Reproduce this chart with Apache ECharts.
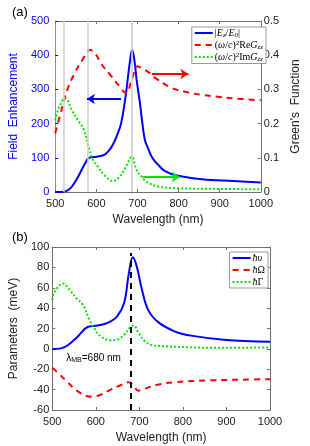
<!DOCTYPE html>
<html><head><meta charset="utf-8">
<script src="https://cdn.jsdelivr.net/npm/echarts@6/dist/echarts.min.js"></script>
<style>html,body{margin:0;padding:0;background:#fff}#c{width:310px;height:446px}</style>
</head><body><div id="c"></div>
<script>
// ---- Panel (a) data ----
const wlE = [500,510,520,530,540,550,560,570,580,590,600,610,620,630,640,650,660,670,676,682,687,692,698,706,712,718,725,736,750,766,796,857,933,1000];
const fieldE = [0,0,1,5,15,33,55,78,98,102,103,105,109,120,138,165,200,270,327,385,415,390,327,260,200,152,130,100,80,62,48,37,32,28];
const wlRe = [500,513,529,547,566,585,600,611,634,657,672,687,700,710,725,744,782,820,857,900,933,1000];
const reG = [0.172,0.23,0.298,0.347,0.386,0.415,0.40,0.376,0.342,0.308,0.289,0.332,0.368,0.362,0.352,0.333,0.305,0.292,0.284,0.278,0.274,0.268];
const wlIm = [500,510,525,540,555,570,581,592,604,619,641,657,672,686,698,710,717,729,751,800,900,1000];
const imG = [0.21,0.25,0.274,0.24,0.21,0.181,0.132,0.094,0.074,0.05,0.032,0.045,0.074,0.103,0.064,0.045,0.035,0.025,0.016,0.011,0.009,0.008];
const refLines = [520,580,687];
// ---- Panel (b) data ----
const wlHv = [500,520,537,558,581,604,627,649,665,676,685,694,706,721,744,782,819,894,1000];
const hv = [0,0.5,4,12,21.5,23,25.5,32,45,74.5,90,81,58,37.5,26,17,13,9,7];
const wlOm = [500,513,536,558,581,592,611,634,657,676,687,698,706,744,782,857,963,1000];
const hOmega = [-18.6,-23.5,-33,-41.5,-46.5,-47,-45,-40,-35.7,-32.7,-36.7,-41,-40,-35,-32.7,-31,-30,-29.8];
const wlGa = [500,506,525,540,555,570,585,596,611,634,649,665,680,687,698,713,732,744,782,894,1000];
const hGamma = [48,56.5,64,58,50,43.5,29,20.5,12.4,8.5,9,14,21.5,23,15.7,7.5,3.3,3,2,1,1.5];
const lambdaMB = 680;

const zip = (a,b)=>a.map((x,i)=>[x,b[i]]);
const BLUE='#0000ff', RED='#ff0000', GREEN='#00e600';
const FONT='Liberation Sans, Arial, sans-serif';
const SERIF='Liberation Serif, DejaVu Serif, serif';
const grids=[{left:49,right:40,top:21,height:171},{left:49,right:40,top:247,height:163}];
const frame='#707070';
const SM = 0.4;

function xAx(g, top){
  return {type:'value',gridIndex:g,min:500,max:1000,interval:100,position:top?'top':'bottom',
    axisLine:{show:true,onZero:false,lineStyle:{color:frame,width:1}},
    axisTick:{show:true,inside:true,length:3,lineStyle:{color:frame}},
    axisLabel:{show:!top,color:'#222',fontSize:11,fontFamily:FONT,margin:6,formatter:v=>String(v)},
    splitLine:{show:false},
    name: top?'':'Wavelength (nm)', nameLocation:'middle', nameGap:22,
    nameTextStyle:{color:'#222',fontSize:12,fontFamily:FONT}};
}
const rich = {
  r:{fontFamily:SERIF,fontSize:10,color:'#000'},
  i:{fontFamily:SERIF,fontSize:10,fontStyle:'italic',color:'#000'},
  s:{fontFamily:SERIF,fontSize:7,fontStyle:'italic',color:'#000',verticalAlign:'bottom',padding:[4,0,0,0]},
  p:{fontFamily:SERIF,fontSize:7,color:'#000',verticalAlign:'top',padding:[0,0,4,0]}
};
const legendFmt = {
  'Ez':'{r||}{i|E}{s|z}{r|/}{i|E}{s|0}{r||}',
  'ReG':'{r|(}{i|ω}{r|/}{i|c}{r|)}{p|2}{r|Re}{i|G}{s|zz}',
  'ImG':'{r|(}{i|ω}{r|/}{i|c}{r|)}{p|2}{r|Im}{i|G}{s|zz}',
  'hv':'{i|ħυ}','hO':'{i|ħ}{r|Ω}','hG':'{i|ħ}{r|Γ}'
};
function arrow(color, from, to){
  return {silent:true,symbol:['none','arrow'],symbolSize:8,label:{show:false},
    lineStyle:{color:color,width:2,type:'solid'},data:[[{coord:from},{coord:to}]]};
}
function lineSeries(name, xi, yi, data, color, type){
  return {name:name,type:'line',xAxisIndex:xi,yAxisIndex:yi,data:data,showSymbol:false,symbol:'none',smooth:SM,
    lineStyle:{color:color,width:2,type:type},itemStyle:{color:color},z:3};
}
const legendBase = {orient:'vertical',itemWidth:18,itemHeight:10,
  padding:[1,3,1,2],borderColor:'#999',borderWidth:1,backgroundColor:'#fff',
  itemStyle:{opacity:0},formatter:n=>legendFmt[n],textStyle:{rich:rich,padding:[0,0,0,-3]}};
const chart = echarts.init(document.getElementById('c'),null,{renderer:'canvas'});
chart.setOption({
  animation:false,
  title:[{text:'(a)',left:7,top:1,textStyle:{fontSize:13,fontWeight:'normal',fontFamily:FONT,color:'#000'}},
         {text:'(b)',left:7,top:226,textStyle:{fontSize:13,fontWeight:'normal',fontFamily:FONT,color:'#000'}}],
  grid:grids,
  legend:[
    Object.assign({},legendBase,{data:['Ez','ReG','ImG'],right:44,top:27,itemGap:1}),
    Object.assign({},legendBase,{data:['hv','hO','hG'],right:42,top:252,itemGap:2})
  ],
  xAxis:[xAx(0,false),xAx(0,true),xAx(1,false),xAx(1,true)],
  yAxis:[
    {type:'value',gridIndex:0,min:0,max:500,interval:100,position:'left',
     axisLine:{show:true,lineStyle:{color:'#8080ff'}},axisTick:{show:true,inside:true,length:3,lineStyle:{color:BLUE}},
     axisLabel:{color:BLUE,fontSize:11,fontFamily:FONT,margin:6},splitLine:{show:false},
     name:'Field  Enhancement',nameLocation:'middle',nameGap:26,nameTextStyle:{color:BLUE,fontSize:12,fontFamily:FONT}},
    {type:'value',gridIndex:0,min:0,max:0.5,interval:0.1,position:'right',
     axisLine:{show:true,lineStyle:{color:frame}},axisTick:{show:true,inside:true,length:3,lineStyle:{color:frame}},
     axisLabel:{color:'#222',fontSize:11,fontFamily:FONT,margin:3,formatter:v=>v===0?'0':v.toFixed(1)},splitLine:{show:false},
     name:"Green's  Function",nameLocation:'middle',nameGap:26,nameRotate:90,nameTextStyle:{color:'#222',fontSize:12,fontFamily:FONT}},
    {type:'value',gridIndex:1,min:-60,max:100,interval:20,position:'left',
     axisLine:{show:true,lineStyle:{color:frame}},axisTick:{show:true,inside:true,length:3,lineStyle:{color:frame}},
     axisLabel:{color:'#222',fontSize:11,fontFamily:FONT,margin:3},splitLine:{show:false},
     name:'Parameters  (meV)',nameLocation:'middle',nameGap:26,nameTextStyle:{color:'#222',fontSize:12,fontFamily:FONT}},
    {type:'value',gridIndex:1,min:-60,max:100,interval:20,position:'right',
     axisLine:{show:true,lineStyle:{color:frame}},axisTick:{show:true,inside:true,length:3,lineStyle:{color:frame}},
     axisLabel:{show:false},splitLine:{show:false}}
  ],
  series:[
    {type:'line',xAxisIndex:0,yAxisIndex:0,data:[],z:1,silent:true,
     markLine:{silent:true,symbol:['none','none'],label:{show:false},lineStyle:{color:'#cccccc',width:1.5,type:'solid'},
       data:refLines.map(v=>({xAxis:v}))}},
    Object.assign(lineSeries('Ez',0,0,zip(wlE,fieldE),BLUE,'solid'),{markLine:arrow(BLUE,[660,272],[577,272])}),
    Object.assign(lineSeries('ReG',0,1,zip(wlRe,reG),RED,[6,5]),{markLine:arrow(RED,[735,0.345],[824,0.345])}),
    Object.assign(lineSeries('ImG',0,1,zip(wlIm,imG),GREEN,[2,2]),{markLine:arrow(GREEN,[713,0.044],[803,0.044])}),
    lineSeries('hv',2,2,zip(wlHv,hv),BLUE,'solid'),
    lineSeries('hO',2,2,zip(wlOm,hOmega),RED,[6,5]),
    lineSeries('hG',2,2,zip(wlGa,hGamma),GREEN,[2,2]),
    {type:'line',xAxisIndex:2,yAxisIndex:2,data:[],z:5,silent:true,
     markLine:{silent:true,symbol:['none','none'],label:{show:false},lineStyle:{color:'#000',width:2,type:[6,5]},
       data:[[{coord:[lambdaMB,-60]},{coord:[lambdaMB,94]}]]},
     markPoint:{silent:true,symbol:'circle',symbolSize:1,itemStyle:{color:'rgba(0,0,0,0)'},
       label:{show:true,position:'right',distance:0,
         formatter:'{a|λ}{s|MB}{a|=680 nm}',
         rich:{a:{fontFamily:FONT,fontSize:10,color:'#000'},s:{fontFamily:FONT,fontSize:7,color:'#000',verticalAlign:'bottom',padding:[5,0,0,0]}}},
       data:[{coord:[531,-9]}]}}
  ]
});
</script></body></html>
